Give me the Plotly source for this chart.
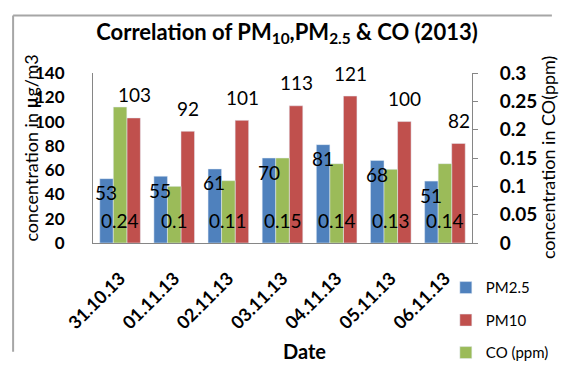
import plotly.graph_objects as go

dates = ["31.10.13", "01.11.13", "02.11.13", "03.11.13", "04.11.13", "05.11.13", "06.11.13"]
pm25 = [53, 55, 61, 70, 81, 68, 51]
pm10 = [103, 92, 101, 113, 121, 100, 82]
co = [0.24, 0.1, 0.11, 0.15, 0.14, 0.13, 0.14]

BLUE = "#4F81BD"
RED = "#C0504D"
GREEN = "#9BBB59"
FONT = "Lato"

# The page body keeps its default 8px margin; the figure fills the rest of the window
OFF = 8
W, H = 574 - 2 * OFF, 389 - 2 * OFF
L, R, T = 93 - OFF, W - (482 - OFF), 73 - OFF
B = H - (259 - OFF)
PW, PH = W - L - R, H - T - B


def px(x):  # page pixel -> paper x
    return (x - OFF - L) / PW


def py(y):  # page pixel -> paper y
    return (259 - y) / PH


fig = go.Figure()
fig.add_trace(go.Bar(x=dates, y=pm25, name="PM2.5", marker_color=BLUE,
                     width=0.25, offset=-0.375, legendgroup="a"))
fig.add_trace(go.Bar(x=dates, y=pm10, name="PM10", marker_color=RED,
                     width=0.25, offset=0.125, legendgroup="b"))
fig.add_trace(go.Bar(x=dates, y=co, name="CO (ppm)", marker_color=GREEN,
                     width=0.25, offset=-0.125, yaxis="y2", legendgroup="c"))

ann = []
lab_font = dict(family=FONT, size=19, color="black")
for d, v in zip(dates, pm25):
    ann.append(dict(x=d, y=v, xref="x", yref="y", text=str(v), showarrow=False,
                    xshift=-14, yshift=-14, yanchor="middle", font=lab_font))
for d, v in zip(dates, pm10):
    ann.append(dict(x=d, y=v, xref="x", yref="y", text=str(v), showarrow=False,
                    xshift=14, yshift=23, yanchor="middle", font=lab_font))
for d, v in zip(dates, co):
    ann.append(dict(x=d, y=0, xref="x", yref="y", text=str(v), showarrow=False,
                    yshift=23, yanchor="middle", font=lab_font))

ann.append(dict(x=px(310), y=py(377), xref="paper", yref="paper",
                text="<b>Date</b>", showarrow=False, xanchor="center", yanchor="middle",
                font=dict(family=FONT, size=20, color="black")))
ann.append(dict(x=px(29), y=py(155), xref="paper", yref="paper",
                text="concentration in <b>µ</b>g/m3", showarrow=False, textangle=-90,
                xanchor="center", yanchor="middle",
                font=dict(family=FONT, size=18, color="black")))
ann.append(dict(x=px(560), y=py(165), xref="paper", yref="paper",
                text="concentration in CO(ppm)", showarrow=False, textangle=-90,
                xanchor="center", yanchor="middle",
                font=dict(family=FONT, size=18, color="black")))

fig.update_layout(
    autosize=True,
    margin=dict(l=L, r=R, t=T, b=B),
    paper_bgcolor="white", plot_bgcolor="white",
    barmode="overlay",
    font=dict(family=FONT, color="black"),
    title=dict(text="<b>Correlation of PM<sub>10</sub>,PM<sub>2.5</sub> & CO (2013)</b>",
               x=0.5, xanchor="center", y=1 - (32 - OFF) / H, yanchor="middle",
               font=dict(family=FONT, size=22, color="black")),
    xaxis=dict(type="category", showline=True, linecolor="#868686", linewidth=1,
               showgrid=False, ticks="", tickangle=-45, ticklabelstandoff=17,
               tickfont=dict(family=FONT, size=18, color="black", weight="bold")),
    yaxis=dict(range=[0, 140], dtick=20, showline=True, linecolor="#868686", linewidth=1,
               showgrid=False, ticks="", ticklabelstandoff=24, zeroline=False,
               tickfont=dict(family=FONT, size=17, color="black", weight="bold")),
    yaxis2=dict(range=[0, 0.3], dtick=0.05, overlaying="y", side="right",
                showline=True, linecolor="#868686", linewidth=1, showgrid=False,
                ticks="outside", ticklen=5, tickcolor="#868686", zeroline=False,
                ticklabelstandoff=18,
                tickfont=dict(family=FONT, size=19, color="black", weight="bold")),
    legend=dict(x=px(566), y=py(290), xanchor="right", yanchor="top",
                font=dict(family=FONT, size=15, color="black"),
                tracegroupgap=10, traceorder="grouped", itemwidth=30,
                bgcolor="rgba(0,0,0,0)"),
    annotations=ann,
    shapes=[
        dict(type="line", xref="paper", yref="paper",
             x0=px(11), x1=px(11), y0=py(378), y1=py(10),
             line=dict(color="#A6A6A6", width=2)),
        dict(type="line", xref="paper", yref="paper",
             x0=px(11), x1=px(564), y0=py(10), y1=py(10),
             line=dict(color="#A6A6A6", width=2)),
    ],
)

fig.write_html("out.html", config={"displayModeBar": False, "responsive": True},
               default_width="calc(100vw - 16px)", default_height="calc(100vh - 16px)")
